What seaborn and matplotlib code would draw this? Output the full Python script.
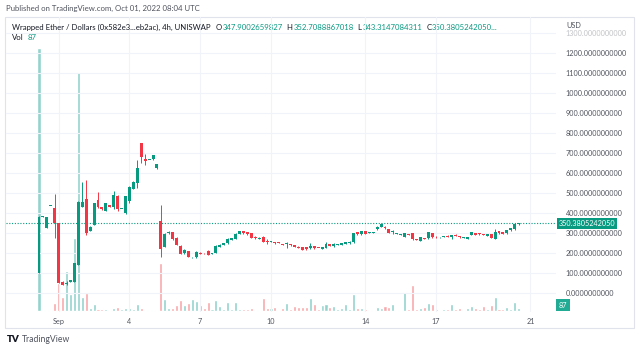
import pandas as pd
import numpy as np
import seaborn as sns
import matplotlib.pyplot as plt
import matplotlib.dates as mdates
from matplotlib.patches import Rectangle


# -------------------------------------------------
# DATA  (4h candles, WETH / USD on Uniswap)
# -------------------------------------------------

opens = [100, 383, 325, 436, 425, 350, 58, 45, 58, 58, 142, 433, 472, 312, 342, 467, 430, 413, 440, 430,
         487, 421, 400, 462, 522, 550, 750, 672, 666, 670, 625, 363, 233, 303, 305, 278, 238, 203, 212, 180,
         180, 203, 201, 213, 197, 203, 233, 242, 250, 267, 272, 297, 312, 305, 300, 283, 272, 283, 263, 257,
         257, 254, 247, 247, 247, 242, 233, 230, 230, 225, 235, 228, 222, 228, 247, 237, 242, 243, 247, 250,
         255, 305, 295, 312, 302, 304, 320, 333, 333, 322, 306, 296, 294, 283, 296, 300, 272, 263, 277, 275,
         300, 283, 280, 282, 288, 280, 293, 287, 279, 272, 292, 300, 300, 297, 287, 295, 272, 312, 305, 300,
         315, 320, 347.9002659827]
highs = [385, 385, 383, 438, 496, 350, 60, 62, 67, 152, 460, 558, 567, 335, 452, 508, 432, 452, 442, 510,
         490, 424, 487, 535, 562, 667, 752, 697, 669, 692, 647, 442, 300, 312, 307, 280, 240, 222, 214, 184,
         210, 205, 202, 215, 201, 240, 245, 252, 275, 277, 300, 313, 314, 307, 302, 285, 280, 285, 270, 264,
         259, 255, 249, 258, 249, 244, 235, 232, 232, 250, 237, 229, 232, 258, 249, 252, 247, 254, 257, 260,
         302, 307, 314, 314, 306, 308, 335, 350, 335, 324, 315, 300, 298, 302, 298, 302, 274, 282, 279, 307,
         302, 285, 282, 286, 290, 292, 295, 289, 282, 282, 307, 302, 302, 299, 299, 297, 320, 314, 307, 319,
         327, 349, 352.7088867018]
lows = [100, 383, 325, 436, 275, 50, 40, 42, 56, 56, 140, 430, 292, 310, 340, 428, 415, 410, 432, 420,
        412, 420, 398, 450, 520, 525, 650, 642, 665, 668, 623, 183, 230, 298, 268, 240, 195, 198, 180, 175,
        178, 195, 199, 190, 196, 200, 231, 240, 248, 265, 270, 295, 298, 293, 276, 273, 270, 256, 248, 255,
        248, 252, 240, 228, 238, 231, 226, 216, 218, 223, 223, 225, 220, 226, 235, 233, 240, 241, 245, 248,
        253, 293, 293, 295, 300, 302, 318, 331, 323, 301, 298, 295, 293, 280, 292, 268, 265, 261, 270, 273,
        278, 278, 279, 281, 280, 270, 285, 278, 278, 270, 290, 290, 293, 290, 285, 276, 270, 298, 295, 298,
        313, 318, 343.3147084311]
closes = [383, 384, 383, 438, 350, 50, 42, 52, 65, 150, 458, 458, 300, 333, 450, 430, 420, 450, 433, 492,
          420, 423, 485, 533, 556, 625, 683, 660, 668, 690, 645, 220, 297, 307, 270, 242, 197, 217, 183, 182,
          208, 197, 200, 192, 199, 237, 242, 250, 272, 275, 297, 310, 300, 295, 278, 275, 278, 258, 255, 262,
          250, 253, 242, 249, 240, 233, 228, 218, 220, 238, 225, 226, 230, 247, 237, 247, 245, 252, 255, 258,
          300, 295, 312, 297, 304, 306, 333, 345, 325, 303, 308, 298, 296, 300, 294, 270, 267, 280, 272, 305,
          280, 280, 281, 284, 282, 290, 287, 280, 281, 280, 305, 292, 295, 292, 297, 278, 308, 300, 297, 317,
          325, 347, 350.3805242050]
volumes = [7627, 29, 29, 29, 232, 812, 406, 1160, 493, 2117, 6931, 406, 522, 87, 203, 58, 58, 58, 29, 87,
           116, 58, 87, 87, 58, 203, 87, 29, 29, 29, 29, 1392, 348, 87, 87, 174, 319, 174, 232, 348,
           290, 174, 87, 261, 58, 319, 145, 58, 261, 58, 261, 58, 58, 58, 87, 29, 29, 377, 87, 87,
           116, 15, 87, 232, 58, 145, 116, 116, 116, 377, 203, 58, 174, 203, 116, 145, 58, 87, 203, 58,
           493, 87, 87, 58, 29, 29, 116, 87, 145, 116, 203, 29, 29, 551, 58, 754, 58, 87, 116, 232,
           203, 58, 29, 58, 58, 203, 58, 87, 29, 87, 145, 87, 58, 145, 58, 174, 406, 58, 58, 116,
           58, 261, 87]

start = "2022-08-31 04:00"
price_ticks = list(range(0, 1400, 100))
date_ticks = ["2022-09-01", "2022-09-04", "2022-09-07", "2022-09-10",
              "2022-09-14", "2022-09-17", "2022-09-21"]
date_labels = ["Sep", "4", "7", "10", "14", "17", "21"]

up_col = "#089981"
down_col = "#f23645"
vol_up = "#93d3cc"
vol_down = "#f8a9ab"
text_col = "#131722"
axis_col = "#50535e"


# -------------------------------------------------
# FRAME
# -------------------------------------------------

df = pd.DataFrame({"open": opens, "high": highs, "low": lows,
                   "close": closes, "volume": volumes})
df["date"] = pd.date_range(start, periods=len(df), freq="4h")
df["x"] = mdates.date2num(df["date"])
df["up"] = df["close"] >= df["open"]
df["dir"] = np.where(df["up"], "up", "down")

step = 1 / 6
x0 = df["x"].iloc[0]

sns.set_theme(style="white")
plt.rcParams["font.family"] = ["Lato", "DejaVu Sans"]

W, H = 640, 352
fig = plt.figure(figsize=(W / 100, H / 100), dpi=100)
fig.patch.set_facecolor("white")

# pane: x 6..556 px, y 17..312 px
ax = fig.add_axes([6 / W, 1 - 312 / H, 550 / W, 295 / H])
vax = ax.twinx()
ax.set_zorder(vax.get_zorder() + 1)
ax.patch.set_visible(False)


# -------------------------------------------------
# VOLUME
# -------------------------------------------------

sns.barplot(data=df, x="x", y="volume", hue="dir", native_scale=True,
            palette={"up": vol_up, "down": vol_down}, dodge=False,
            width=0.78, saturation=1, legend=False, ax=vax, errorbar=None)
vax.set_ylim(-1.5 * 29, 293.5 * 29)
vax.set_yticks([])
vax.set_ylabel("")
vax.set_xlabel("")


# -------------------------------------------------
# CANDLES
# -------------------------------------------------

colors = np.where(df["up"], up_col, down_col)
ax.vlines(df["x"], df["low"], df["high"], colors=colors, linewidth=0.7, zorder=2)
body_low = df[["open", "close"]].min(axis=1)
body_h = (df["close"] - df["open"]).abs().clip(lower=4)
ax.bar(df["x"], body_h, bottom=body_low, width=step * 0.75,
       color=colors, linewidth=0, zorder=3)

# last price line
last = closes[-1]
ax.axhline(last, color=up_col, linestyle=(0, (1, 1.5)), linewidth=0.8, zorder=1)

ax.set_xlim(x0 - 8.4 * step, x0 + 131.5 * step)
ax.set_ylim((293.3 - 312) * 5, (293.3 - 17) * 5)
vax.set_xlim(ax.get_xlim())

ax.set_yticks(price_ticks)
ax.yaxis.tick_right()
ax.set_yticklabels([f"{v:.10f}" for v in price_ticks])
ax.tick_params(axis="y", length=0, pad=7, labelsize=5.2, labelcolor=axis_col)
ax.get_yticklabels()[-1].set_alpha(0.35)

ax.set_xticks(mdates.date2num(pd.to_datetime(date_ticks)))
ax.set_xticklabels(date_labels)
ax.tick_params(axis="x", length=0, pad=4, labelsize=5.2, labelcolor=axis_col)

ax.grid(True, color="#f0f3fa", linewidth=0.8)
ax.set_axisbelow(True)
for a in (ax, vax):
    for s in a.spines.values():
        s.set_visible(False)
ax.set_xlabel("")
ax.set_ylabel("")

# price / volume tags on the scale
ax.text(1.0055, last, f"{last:.10f}", transform=ax.get_yaxis_transform(),
        va="center", ha="left", fontsize=5.2, color="white",
        bbox=dict(boxstyle="square,pad=0.25", fc=up_col, ec="none"))
vax.text(1.0055, volumes[-1] + 2.5 * 29, f"{volumes[-1]}", transform=vax.get_yaxis_transform(),
         va="center", ha="left", fontsize=5.2, color="white",
         bbox=dict(boxstyle="square,pad=0.4", fc="#22ab94", ec="none"))


# -------------------------------------------------
# TEXTS AROUND
# -------------------------------------------------

def px(x, y):
    return x / W, 1 - y / H


def chain(prev, s, color, gap):
    # put a text right after the previous one
    return plt.annotate(
        s, xy=(1, 0.5), xycoords=prev, xytext=(gap, 0), textcoords="offset points",
        va="center", ha="left", fontsize=5.6, color=color, annotation_clip=False)


fig.add_artist(Rectangle(px(5, 328), 629 / W, 311 / H, transform=fig.transFigure,
                         fill=False, ec="#e0e3eb", lw=0.8))

fig.text(*px(6, 8), "Published on TradingView.com, Oct 01, 2022 08:04 UTC",
         fontsize=5.6, color=axis_col, va="center")

t = fig.text(*px(12, 27), "Wrapped Ether / Dollars (0x582e3...eb2ac), 4h, UNISWAP",
             fontsize=5.6, color=text_col, va="center")
gap = 3.5
for lab, val, tail in [("O", opens[-1], ""), ("H", highs[-1], ""),
                       ("L", lows[-1], ""), ("C", closes[-1], "...")]:
    t = chain(t, lab, text_col, gap)
    t = chain(t, f"{val:.10f}{tail}", up_col, 0.6)
    gap = 2.8

v = fig.text(*px(12, 38), "Vol", fontsize=5.6, color=text_col, va="center")
chain(v, f"{volumes[-1]}", up_col, 3)
fig.text(*px(566, 26), "USD", fontsize=5.2, color=axis_col, va="center")

fig.text(*px(7, 340), "TV", fontsize=7, fontweight="heavy", color=text_col, va="center")
fig.text(*px(22, 340), "TradingView", fontsize=6.2, color=axis_col, va="center")

fig.savefig("out.png", dpi=100)
